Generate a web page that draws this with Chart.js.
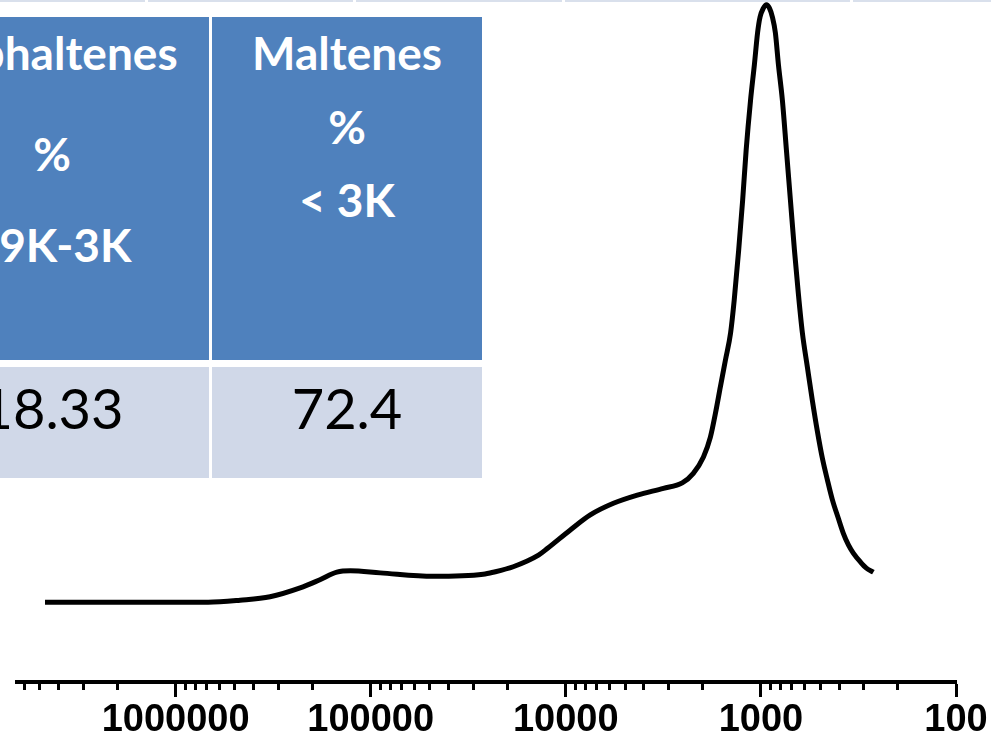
<!DOCTYPE html>
<html>
<head>
<meta charset="utf-8">
<title>GPC Trace</title>
<script src="https://cdn.jsdelivr.net/npm/chart.js@4"></script>
<style>
  html, body { margin: 0; padding: 0; background: #fff; }
  #wrap { position: relative; width: 991px; height: 748px; overflow: hidden; }
  #gpcChart { position: absolute; left: 0; top: 0; }
  .rule { position: absolute; top: 0; height: 2px; background: #d9e0ec; }
  .cell { position: absolute; }
  .head { background: #4f81bd; }
  .val { background: #d0d8e8; }
  .txt { position: absolute; text-align: center; font-family: Lato, sans-serif; line-height: 1; white-space: nowrap; }
  .h { color: #fff; font-weight: bold; font-size: 46px; }
  .v { color: #000; font-size: 56px; }
</style>
</head>
<body>
<div id="wrap">
  <canvas id="gpcChart" width="991" height="748"></canvas>
</div>
<script>
  // molecular weight (x, log scale, reversed) and detector response (y)
  var molWeights = [4670000, 2440000, 1350000, 681000, 467000, 328000, 230000, 182000, 149000, 127000,
    89400, 47800, 26500, 23500, 18600, 13800, 12400, 9480, 7490, 5700,
    4300, 3160, 2530, 2220, 1970, 1815, 1710, 1613, 1520, 1430,
    1370, 1300, 1240, 1190, 1130, 1080, 1040, 1010, 971,
    937, 904, 873, 843, 813, 776, 740, 706, 673, 643,
    613, 578, 545, 513, 484, 456, 430, 401, 378, 356,
    336, 309, 288, 265];
  var response = [11.7, 11.7, 11.7, 11.7, 12.0, 12.5, 13.8, 15.0, 16.1, 16.3,
    16.0, 15.5, 15.8, 16.1, 16.9, 18.6, 19.6, 22.3, 24.5, 26.2,
    27.4, 28.4, 29.2, 30.6, 33.0, 35.9, 39.4, 43.3, 47.2, 51.2,
    56.0, 63.3, 70.7, 78.0, 85.3, 90.5, 95.2, 97.5, 98.8,
    99.3, 98.8, 97.5, 95.2, 90.5, 85.3, 78.0, 70.7, 63.3, 57.0,
    51.2, 46.2, 41.3, 36.7, 32.8, 29.6, 26.7, 24.0, 21.8, 20.1,
    18.9, 17.6, 16.7, 16.1];

  var majorTicks = [1000000, 100000, 10000, 1000, 100];
  var xMin = 100, xMax = 6500000;

  var tableHeaders = [
    ['Asphaltenes', '%', '19K-3K'],
    ['Maltenes', '%', '< 3K']
  ];
  var tableValues = ['18.33', '72.4'];

  var points = molWeights.map(function (mw, i) { return { x: mw, y: response[i] }; });

  // table overlay
  var wrap = document.getElementById('wrap');
  function addDiv(cls, css, text) {
    var d = document.createElement('div');
    d.className = cls;
    Object.assign(d.style, css);
    if (text) d.textContent = text;
    wrap.appendChild(d);
    return d;
  }
  [[0, 145], [148, 353], [356, 562], [565, 850], [853, 991]].forEach(function (s) {
    addDiv('rule', { left: s[0] + 'px', width: (s[1] - s[0]) + 'px' });
  });
  var cols = [{ left: -105, width: 314 }, { left: 212, width: 270 }];
  var headBase = [[71, 172, 263], [71, 145, 218]];
  cols.forEach(function (c, ci) {
    addDiv('cell head', { left: c.left + 'px', width: c.width + 'px', top: '17px', height: '343px' });
    addDiv('cell val', { left: c.left + 'px', width: c.width + 'px', top: '367px', height: '111px' });
    tableHeaders[ci].forEach(function (t, li) {
      addDiv('txt h', { left: c.left + 'px', width: c.width + 'px', top: (headBase[ci][li] - 41) + 'px' }, t);
    });
    addDiv('txt v', { left: c.left + 'px', width: c.width + 'px', top: (430 - 50) + 'px' }, tableValues[ci]);
  });

  // shorter minor ticks drawn from the scale
  var minorTicks = {
    id: 'minorTicks',
    afterDraw: function (chart) {
      var scale = chart.scales.x;
      var ctx = chart.ctx;
      ctx.save();
      ctx.strokeStyle = '#000';
      ctx.lineWidth = 3;
      scale.ticks.forEach(function (t) {
        if (t.major) return;
        var px = Math.round(scale.getPixelForValue(t.value)) + 0.5;
        ctx.beginPath();
        ctx.moveTo(px, scale.top + 2);
        ctx.lineTo(px, scale.top + 8);
        ctx.stroke();
      });
      ctx.restore();
    }
  };

  var ctx = document.getElementById('gpcChart').getContext('2d');
  new Chart(ctx, {
    type: 'line',
    data: {
      datasets: [{
        data: points,
        borderColor: '#000',
        borderWidth: 5,
        pointRadius: 0,
        fill: false,
        cubicInterpolationMode: 'monotone'
      }]
    },
    options: {
      responsive: false,
      animation: false,
      events: [],
      layout: { padding: { left: 17, right: 35, top: 0, bottom: 0 } },
      plugins: { legend: { display: false }, tooltip: { enabled: false } },
      scales: {
        x: {
          type: 'logarithmic',
          reverse: true,
          min: xMin,
          max: xMax,
          afterBuildTicks: function (scale) {
            var list = [];
            for (var e = 6; e >= 2; e--) {
              for (var m = 9; m >= 1; m--) {
                var v = m * Math.pow(10, e);
                if (v <= xMax && v >= xMin) list.push({ value: v, major: majorTicks.indexOf(v) >= 0 });
              }
            }
            scale.ticks = list;
          },
          afterFit: function (scale) { scale.height = 66; },
          border: { display: true, color: '#000', width: 4 },
          grid: {
            display: true,
            drawOnChartArea: false,
            drawTicks: true,
            tickLength: 15,
            tickWidth: 3,
            tickColor: function (c) { return c.tick && c.tick.major ? '#000' : 'rgba(0,0,0,0)'; }
          },
          ticks: {
            autoSkip: false,
            maxRotation: 0,
            minRotation: 0,
            padding: 3,
            color: '#000',
            font: { family: 'Liberation Sans', size: 38, weight: 'bold', lineHeight: 1.1 },
            callback: function (val, i, ticks) { return ticks[i].major ? String(val) : ''; }
          }
        },
        y: {
          display: false,
          min: 0,
          max: 100
        }
      }
    },
    plugins: [minorTicks]
  });
</script>
</body>
</html>
